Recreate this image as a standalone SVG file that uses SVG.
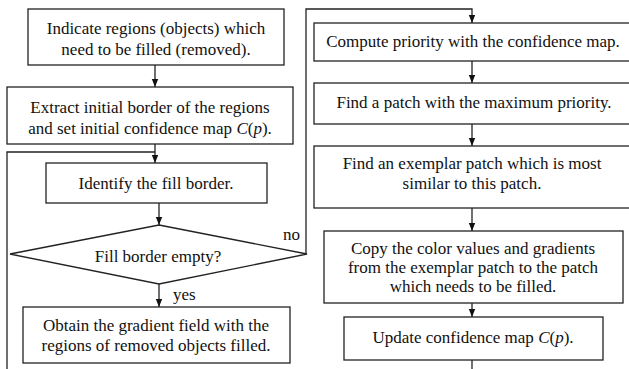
<svg xmlns="http://www.w3.org/2000/svg" width="629" height="369" viewBox="0 0 629 369">
<style>
.box{fill:#fff;stroke:#222;stroke-width:1.3}
.ln{fill:none;stroke:#222;stroke-width:1.3}
</style>
<defs>
<marker id="ah" viewBox="0 0 8 8" refX="8" refY="4" markerWidth="8" markerHeight="8" markerUnits="userSpaceOnUse" orient="auto">
<path d="M0,0.8 L8,4 L0,7.2 Z" fill="#111"/>
</marker>
</defs>
<rect width="629" height="369" fill="#fff"/>
<g id="connectors">
<line class="ln" x1="155" y1="65" x2="155" y2="87" marker-end="url(#ah)"/>
<line class="ln" x1="155" y1="144" x2="155" y2="163" marker-end="url(#ah)"/>
<polyline class="ln" points="7,369 7,152 155,152"/>
<line class="ln" x1="159" y1="203" x2="159" y2="225" marker-end="url(#ah)"/>
<line class="ln" x1="159" y1="284" x2="159" y2="307" marker-end="url(#ah)"/>
<polyline class="ln" points="306,254 306,9 472,9 472,23" marker-end="url(#ah)"/>
<line class="ln" x1="472" y1="61" x2="472" y2="83" marker-end="url(#ah)"/>
<line class="ln" x1="472" y1="124" x2="472" y2="146" marker-end="url(#ah)"/>
<line class="ln" x1="472" y1="208" x2="472" y2="231" marker-end="url(#ah)"/>
<line class="ln" x1="472" y1="303" x2="472" y2="317" marker-end="url(#ah)"/>
<line class="ln" x1="472" y1="360" x2="472" y2="369"/>
</g>
<g font-family="Times New Roman" font-size="17" fill="#111">
<text x="283" y="240">no</text>
<text x="173" y="300">yes</text>
<g id="n1" text-anchor="middle">
<rect class="box" x="28" y="9" width="256" height="56"/>
<text x="156" y="34">Indicate regions (objects) which</text>
<text x="156" y="55">need to be filled (removed).</text>
</g>
<g id="n2" text-anchor="middle">
<rect class="box" x="7" y="87" width="286" height="57"/>
<text x="150" y="113">Extract initial border of the regions</text>
<text x="150" y="134">and set initial confidence map <tspan font-style="italic">C</tspan>(<tspan font-style="italic">p</tspan>).</text>
</g>
<g id="n3" text-anchor="middle">
<rect class="box" x="46" y="163" width="221" height="40"/>
<text x="156" y="189">Identify the fill border.</text>
</g>
<g id="n4" text-anchor="middle">
<polygon class="box" points="159,225 307,254 159,284 10,254"/>
<text x="158" y="262">Fill border empty?</text>
</g>
<g id="n5" text-anchor="middle">
<rect class="box" x="23" y="307" width="267" height="56"/>
<text x="156" y="331">Obtain the gradient field with the</text>
<text x="156" y="351">regions of removed objects filled.</text>
</g>
<g id="n6" text-anchor="middle">
<rect class="box" x="314" y="23" width="320" height="38"/>
<text x="473" y="47">Compute priority with the confidence map.</text>
</g>
<g id="n7" text-anchor="middle">
<rect class="box" x="314" y="83" width="320" height="41"/>
<text x="474" y="108">Find a patch with the maximum priority.</text>
</g>
<g id="n8" text-anchor="middle">
<rect class="box" x="314" y="146" width="320" height="62"/>
<text x="472" y="169">Find an exemplar patch which is most</text>
<text x="472" y="189">similar to this patch.</text>
</g>
<g id="n9" text-anchor="middle">
<rect class="box" x="324" y="231" width="299" height="72"/>
<text x="473" y="254">Copy the color values and gradients</text>
<text x="473" y="273">from the exemplar patch to the patch</text>
<text x="473" y="292">which needs to be filled.</text>
</g>
<g id="n10" text-anchor="middle">
<rect class="box" x="344" y="317" width="259" height="43"/>
<text x="473" y="343">Update confidence map <tspan font-style="italic">C</tspan>(<tspan font-style="italic">p</tspan>).</text>
</g>
</g>
</svg>
